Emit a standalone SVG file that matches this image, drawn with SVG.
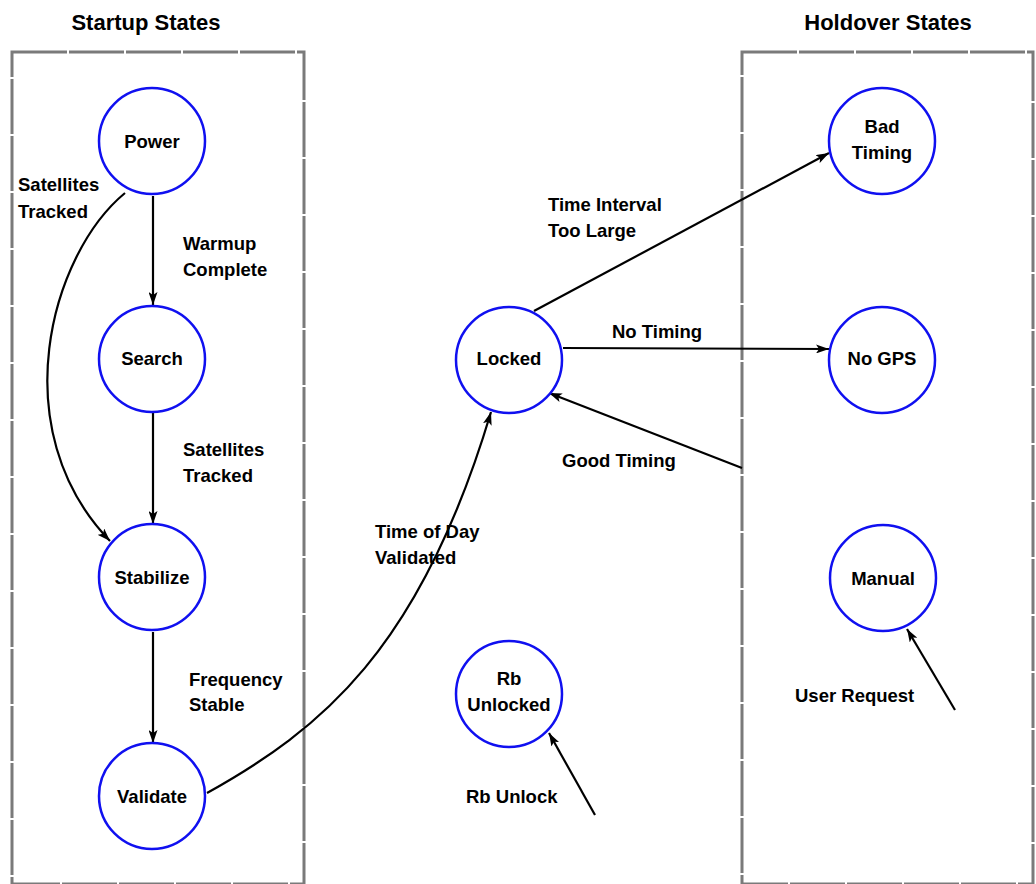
<svg xmlns="http://www.w3.org/2000/svg" width="1036" height="884" viewBox="0 0 1036 884">
<defs>
<style>
.frame{fill:none;stroke:#7a7a7a;stroke-width:3;stroke-dasharray:55 2}
.node{fill:#fff;stroke:#1010f0;stroke-width:2.5}
.edge{fill:none;stroke:#000;stroke-width:2.2;marker-end:url(#arr)}
text{font-family:"Liberation Sans",Arial,sans-serif;font-weight:bold;font-size:18.5px;fill:#000}
.title{font-size:22px}
.c{text-anchor:middle}
</style>
<marker id="arr" viewBox="0 0 13 9" refX="13" refY="4.5" markerWidth="13" markerHeight="9" markerUnits="userSpaceOnUse" orient="auto">
<path d="M0,0 L13,4.5 L0,9 L3,4.5 Z" fill="#000"/>
</marker>
</defs>
<rect width="1036" height="884" fill="#fff"/>
<g id="startup-frame">
<rect class="frame" x="12" y="52" width="292" height="832"/>
<text class="title c" x="146" y="30">Startup States</text>
</g>
<g id="holdover-frame">
<rect class="frame" x="742" y="52" width="291" height="832"/>
<text class="title c" x="888" y="30">Holdover States</text>
</g>
<g id="connectors">
<line class="edge" x1="153" y1="196" x2="153" y2="305"/>
<line class="edge" x1="153" y1="413" x2="153" y2="524"/>
<line class="edge" x1="153" y1="632" x2="153" y2="743"/>
<path class="edge" d="M125,193 C50,255 3,430 110,541"/>
<path class="edge" d="M207,793 C320,730 420,650 491,412"/>
<line class="edge" x1="534" y1="311" x2="829" y2="153"/>
<line class="edge" x1="563" y1="348" x2="829" y2="349"/>
<line class="edge" x1="742" y1="468" x2="549" y2="393"/>
<line class="edge" x1="955" y1="710" x2="907" y2="629"/>
<line class="edge" x1="595" y1="815" x2="549" y2="733"/>
<text x="18" y="191">Satellites</text>
<text x="18" y="218">Tracked</text>
<text x="183" y="250">Warmup</text>
<text x="183" y="276">Complete</text>
<text x="183" y="456">Satellites</text>
<text x="183" y="482">Tracked</text>
<text x="189" y="686">Frequency</text>
<text x="189" y="711">Stable</text>
<text x="375" y="538">Time of Day</text>
<text x="375" y="564">Validated</text>
<text x="548" y="211">Time Interval</text>
<text x="548" y="237">Too Large</text>
<text x="612" y="338">No Timing</text>
<text x="562" y="467">Good Timing</text>
<text x="466" y="803">Rb Unlock</text>
<text x="795" y="702">User Request</text>
</g>
<g id="power"><circle class="node" cx="152" cy="141" r="53"/><text class="c" x="152" y="148">Power</text></g>
<g id="search"><circle class="node" cx="152" cy="359" r="53"/><text class="c" x="152" y="365">Search</text></g>
<g id="stabilize"><circle class="node" cx="152" cy="577" r="53"/><text class="c" x="152" y="584">Stabilize</text></g>
<g id="validate"><circle class="node" cx="152" cy="796" r="53"/><text class="c" x="152" y="803">Validate</text></g>
<g id="locked"><circle class="node" cx="509" cy="360" r="53"/><text class="c" x="509" y="365">Locked</text></g>
<g id="rb-unlocked"><circle class="node" cx="509" cy="694" r="53"/><text class="c" x="509" y="685">Rb</text><text class="c" x="509" y="711">Unlocked</text></g>
<g id="bad-timing"><circle class="node" cx="882" cy="141" r="53"/><text class="c" x="882" y="133">Bad</text><text class="c" x="882" y="159">Timing</text></g>
<g id="no-gps"><circle class="node" cx="882" cy="360" r="53"/><text class="c" x="882" y="365">No GPS</text></g>
<g id="manual"><circle class="node" cx="883" cy="578" r="53"/><text class="c" x="883" y="585">Manual</text></g>
</svg>
